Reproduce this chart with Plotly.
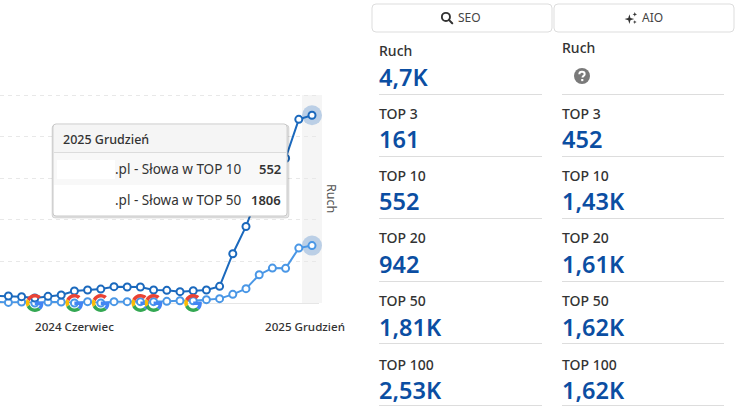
import base64

import plotly.graph_objects as go

WIDTH = 737
HEIGHT = 411
FONT = 'Noto Sans'
TEXT_COLOR = '#333333'
VALUE_COLOR = '#0b4ea2'
DARK_COLOR = '#1b69bd'
LIGHT_COLOR = '#4a97e6'
RULE_COLOR = '#dddddd'

months = [
    '2023 Grudzień', '2024 Styczeń', '2024 Luty', '2024 Marzec', '2024 Kwiecień', '2024 Maj',
    '2024 Czerwiec', '2024 Lipiec', '2024 Sierpień', '2024 Wrzesień', '2024 Październik',
    '2024 Listopad', '2024 Grudzień', '2025 Styczeń', '2025 Luty', '2025 Marzec', '2025 Kwiecień',
    '2025 Maj', '2025 Czerwiec', '2025 Lipiec', '2025 Sierpień', '2025 Wrzesień',
    '2025 Październik', '2025 Listopad', '2025 Grudzień',
]
top50 = [70, 67, 61, 48, 64, 77, 115, 125, 134, 157, 154, 154, 125, 122, 109, 118, 125, 160, 474, 736,
         1069, 1232, 1392, 1766, 1806]
top10 = [10, 6, 10, 0, 10, 10, 0, 13, 0, 13, 13, 13, 13, 16, 22, 22, 32, 42, 83, 138, 272, 336, 333,
         528, 552]
google_updates = ['2024 Marzec', '2024 Czerwiec', '2024 Sierpień', '2024 Listopad', '2024 Grudzień',
                  '2025 Marzec']
tick_labels = ['2024 Czerwiec', '2025 Grudzień']

tooltip_title = '2025 Grudzień'
tooltip_rows = ['.pl - Słowa w TOP 10', '.pl - Słowa w TOP 50']
tooltip_values = ['552', '1806']

stat_labels = ['Ruch', 'TOP 3', 'TOP 10', 'TOP 20', 'TOP 50', 'TOP 100']
seo_values = ['4,7K', '161', '552', '942', '1,81K', '2,53K']
aio_values = ['', '452', '1,43K', '1,61K', '1,62K', '1,62K']

G_SVG = '''<svg xmlns="http://www.w3.org/2000/svg" viewBox="0 0 48 48">
<path fill="#EA4335" d="M24 9.500c3.500 0 6.700 1.200 9.200 3.600l6.900-6.900C35.900 2.400 30.500 0 24 0 14.600 0 6.500 5.400 2.600 13.200l8 6.200C12.500 13.700 17.800 9.500 24 9.500z"/>
<path fill="#4285F4" d="M47 24.500c0-1.600-.1-3.100-.4-4.500H24v9h12.900c-.6 3-2.200 5.500-4.700 7.200l7.700 6C44.400 38 47 31.800 47 24.500z"/>
<path fill="#FBBC05" d="M10.500 28.600c-.5-1.400-.8-3-.8-4.600s.3-3.200.8-4.600l-8-6.200C.900 16.400 0 20.100 0 24s.9 7.600 2.600 10.800l7.900-6.200z"/>
<path fill="#34A853" d="M24 48c6.500 0 11.900-2.100 15.900-5.800l-7.700-6c-2.100 1.400-4.900 2.300-8.200 2.300-6.200 0-11.500-4.200-13.400-9.900l-8 6.200C6.500 42.600 14.600 48 24 48z"/>
</svg>'''
SEARCH_SVG = '''<svg xmlns="http://www.w3.org/2000/svg" viewBox="0 0 24 24">
<circle cx="10" cy="10" r="7.500" fill="none" stroke="#333" stroke-width="3.500"/>
<path d="M15.500 15.500L22 22" stroke="#333" stroke-width="3.800" stroke-linecap="round"/></svg>'''
SPARK_SVG = '''<svg xmlns="http://www.w3.org/2000/svg" viewBox="0 0 24 24" fill="#333">
<path d="M9 5l2 7 7 2-7 2-2 7-2-7-7-2 7-2z"/><path d="M19 1l1.200 3 3 1.200-3 1.200-1.200 3-1.200-3-3-1.200 3-1.200z"/>
<path d="M19 16l1 2.500 2.500 1-2.500 1-1 2.500-1-2.500-2.500-1 2.500-1z"/></svg>'''
HELP_SVG = '''<svg xmlns="http://www.w3.org/2000/svg" viewBox="0 0 24 24">
<circle cx="12" cy="12" r="12" fill="#7a7a7a"/>
<path d="M8 9.500c0-2.300 1.800-3.700 4-3.700s4 1.400 4 3.400c0 2.700-3.300 2.600-3.300 5" fill="none" stroke="#fff" stroke-width="3"/>
<rect x="10.800" y="16.500" width="3.200" height="3.200" fill="#fff"/></svg>'''


def svg_uri(svg):
    return 'data:image/svg+xml;base64,' + base64.b64encode(svg.encode()).decode()


def px(x):
    return x / WIDTH


def py(y):
    return 1 - y / HEIGHT


def box(x0, y0, x1, y1, **kwargs):
    return dict(type='rect', xref='paper', yref='paper', x0=px(x0), x1=px(x1), y0=py(y0), y1=py(y1),
                layer='above', **kwargs)


def rounded(x0, y0, x1, y1, r, line_color, fill='white'):
    path = (f'M{px(x0 + r)},{py(y0)} L{px(x1 - r)},{py(y0)} Q{px(x1)},{py(y0)} {px(x1)},{py(y0 + r)} '
            f'L{px(x1)},{py(y1 - r)} Q{px(x1)},{py(y1)} {px(x1 - r)},{py(y1)} L{px(x0 + r)},{py(y1)} '
            f'Q{px(x0)},{py(y1)} {px(x0)},{py(y1 - r)} L{px(x0)},{py(y0 + r)} Q{px(x0)},{py(y0)} {px(x0 + r)},{py(y0)} Z')
    return dict(type='path', xref='paper', yref='paper', path=path, layer='above', fillcolor=fill,
                line={'color': line_color, 'width': 1})


def label(text, x, y, size, color=TEXT_COLOR, anchor='left', weight=400, angle=0):
    # annotations carry 2px of padding, taken back here
    shift = {'left': -2, 'right': 2, 'center': 0}[anchor]
    return dict(text=text, xref='paper', yref='paper', x=px(x + shift), y=py(y), xanchor=anchor, yanchor='middle',
                showarrow=False, textangle=angle, font={'family': FONT, 'size': size, 'color': color, 'weight': weight})


def icon(svg, x, y, size):
    return dict(source=svg_uri(svg), xref='paper', yref='paper', x=px(x), y=py(y), sizex=size / WIDTH,
                sizey=size / HEIGHT, xanchor='center', yanchor='middle', layer='above')


fig = go.Figure()

x_index = list(range(len(months)))
last = x_index[-1]

fig.add_trace(go.Scatter(x=[last, last], y=[top50[-1], top10[-1]], mode='markers', cliponaxis=False,
                         marker={'size': 20, 'color': 'rgba(70,130,200,0.33)'}, hoverinfo='skip'))
fig.add_trace(go.Scatter(x=x_index, y=top10, mode='lines+markers', name='TOP 10', cliponaxis=False,
                         line={'color': LIGHT_COLOR, 'width': 2},
                         marker={'size': 7, 'color': 'white', 'line': {'color': LIGHT_COLOR, 'width': 2}}))
fig.add_trace(go.Scatter(x=x_index, y=top50, mode='lines+markers', name='TOP 50', cliponaxis=False,
                         line={'color': DARK_COLOR, 'width': 2},
                         marker={'size': 7, 'color': 'white', 'line': {'color': DARK_COLOR, 'width': 2}}))

shapes = [
    dict(type='rect', xref='paper', yref='paper', x0=px(302), x1=px(322), y0=py(303), y1=py(95),
         layer='below', fillcolor='#f5f5f5', line={'width': 0}),
    # tooltip
    rounded(52, 125, 289, 218, 3, 'rgba(0,0,0,0.10)', 'rgba(0,0,0,0.10)'),
    rounded(53, 124, 287, 216, 3, '#c8c8c8'),
    box(54, 125, 286, 152, fillcolor='#f5f5f5', line={'width': 0}),
    box(54, 152, 286, 153, fillcolor='#dcdcdc', line={'width': 0}),
    box(54, 153, 286, 185, fillcolor='#f8f8f8', line={'width': 0}),
    box(57, 160, 115, 179, fillcolor='white', line={'width': 0}),
    # panel buttons
    rounded(372, 4, 552, 32, 4, RULE_COLOR, 'rgba(0,0,0,0)'),
    rounded(554, 4, 734, 32, 4, RULE_COLOR, 'rgba(0,0,0,0)'),
]

annotations = [
    label(tooltip_title, 63, 139.5, 12.5, weight=500),
    label(tooltip_rows[0], 242, 169, 13.5, anchor='right'),
    label(tooltip_rows[1], 242, 200, 13.5, anchor='right'),
    label(tooltip_values[0], 281, 169, 13, anchor='right', weight=600),
    label(tooltip_values[1], 281, 200, 13, anchor='right', weight=600),
    label('Ruch', 332, 198, 12.5, color='#555555', anchor='center', angle=90),
    label(tick_labels[0], 74, 326, 11.6, anchor='center', weight=500),
    label(tick_labels[1], 345, 326, 11.6, anchor='right', weight=500),
    label('SEO', 458, 18, 12, color='#444444'),
    label('AIO', 642, 18, 12, color='#444444'),
]

label_ys = [51, 113, 175, 238, 300, 364]
value_ys = [77, 139, 201, 264, 327, 390]
rule_ys = [94, 156, 218, 281, 343, 405]
for i, name in enumerate(stat_labels):
    annotations.append(label(name, 379, label_ys[i], 14, weight=500))
    annotations.append(label(name, 562, label_ys[i] - 3 if i == 0 else label_ys[i], 14, weight=500))
    annotations.append(label(seo_values[i], 379, value_ys[i] - 0.5, 23.5, color=VALUE_COLOR, weight=600))
    if aio_values[i]:
        annotations.append(label(aio_values[i], 562, value_ys[i] - 0.5, 23.5, color=VALUE_COLOR, weight=600))
    shapes.append(box(379, rule_ys[i], 542, rule_ys[i] + 1, fillcolor=RULE_COLOR, line={'width': 0}))
    shapes.append(box(562, rule_ys[i], 724, rule_ys[i] + 1, fillcolor=RULE_COLOR, line={'width': 0}))

images = [dict(source=svg_uri(G_SVG), xref='x', yref='paper', x=months.index(month), y=py(303),
               sizex=1.4, sizey=18 / HEIGHT, xanchor='center', yanchor='middle', layer='above')
          for month in google_updates]
images += [icon(SEARCH_SVG, 447, 18, 13), icon(SPARK_SVG, 631, 18, 13), icon(HELP_SVG, 582, 76, 16)]

fig.update_layout(
    width=WIDTH,
    height=HEIGHT,
    margin={'l': 0, 'r': 0, 't': 0, 'b': 0},
    paper_bgcolor='white',
    plot_bgcolor='rgba(0,0,0,0)',
    showlegend=False,
    shapes=shapes,
    annotations=annotations,
    images=images,
    xaxis={
        'domain': [0, 319 / WIDTH],
        'range': [last - 312 / 13.2, last + 7 / 13.2],
        'showgrid': False,
        'zeroline': False,
        'showticklabels': False,
        'fixedrange': True,
    },
    yaxis={
        'domain': [py(303), py(94)],
        'range': [0, 2010],
        'tick0': 0,
        'dtick': 400,
        'showticklabels': False,
        'gridcolor': '#e8e8e8',
        'griddash': '4px,4px',
        'gridwidth': 1,
        'zeroline': True,
        'zerolinecolor': '#e6e6e6',
        'zerolinewidth': 1,
        'fixedrange': True,
    },
)

fig.write_html('out.html', config={'displayModeBar': False},
               post_script="document.body.style.margin='0';document.body.style.overflow='hidden';")
